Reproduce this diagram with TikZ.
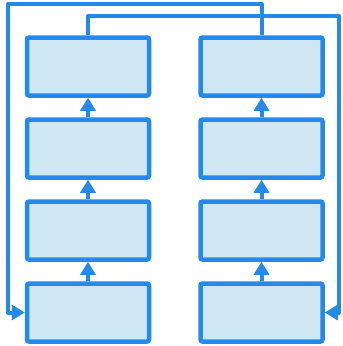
\documentclass[tikz,border=0pt]{standalone}
\usetikzlibrary{arrows.meta}
\definecolor{edgeblue}{RGB}{36,137,234}
\definecolor{boxfill}{RGB}{207,230,243}
\begin{document}
\begin{tikzpicture}[x=1pt,y=-1pt,
  blk/.style={draw=edgeblue,fill=boxfill,line width=4.5pt,rounded corners=2pt,minimum width=122pt,minimum height=58pt,inner sep=0pt},
  flow/.style={draw=edgeblue,line width=4pt,line join=round,-{Triangle[width=15pt,length=13pt]}}]
\useasboundingbox (0,0) rectangle (343,346);
\node[blk] (l1) at (88,66.5) {};
\node[blk] (l2) at (88,148.5) {};
\node[blk] (l3) at (88,230.5) {};
\node[blk] (l4) at (88,312.5) {};
\node[blk] (r1) at (261.5,66.5) {};
\node[blk] (r2) at (261.5,148.5) {};
\node[blk] (r3) at (261.5,230.5) {};
\node[blk] (r4) at (261.5,312.5) {};
\draw[flow] (l4.north) -- (l3.south);
\draw[flow] (l3.north) -- (l2.south);
\draw[flow] (l2.north) -- (l1.south);
\draw[flow] (r4.north) -- (r3.south);
\draw[flow] (r3.north) -- (r2.south);
\draw[flow] (r2.north) -- (r1.south);
\coordinate (oa) at (8,4);
\coordinate (ib) at (339,16);
\draw[flow] (r1.north) |- (oa) |- (l4.west);
\draw[flow] (l1.north) |- (ib) |- (r4.east);
\end{tikzpicture}
\end{document}
